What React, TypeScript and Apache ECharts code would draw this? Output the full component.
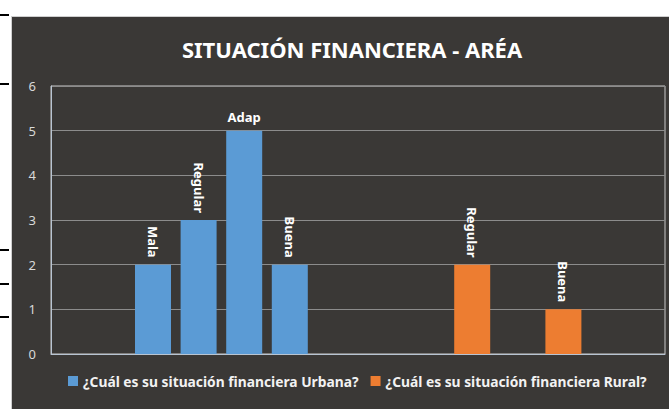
import React, { useEffect, useRef } from "react";
import * as echarts from "echarts";

const slots = ["Mala", "Regular", "Adap", "Buena", "", "", "", "Regular", "", "Buena"];
const urbana = [2, 3, 5, 2, null, null, null, null, null, null];
const rural = [null, null, null, null, null, null, null, 2, null, 1];
const rotatedLabel = [true, true, false, true, false, false, false, true, false, true];
const yTicks = [0, 1, 2, 3, 4, 5, 6];
const seriesNames = ["¿Cuál es su situación financiera Urbana?", "¿Cuál es su situación financiera Rural?"];

const FONT = "Noto Sans";

function toData(vals: (number | null)[]) {
  return vals.map((v, i) => {
    if (v === null) return "-";
    const rot = rotatedLabel[i];
    return {
      value: v,
      label: rot
        ? { rotate: -90, align: "right", verticalAlign: "middle", distance: 7 }
        : { rotate: 0, align: "center", verticalAlign: "bottom", distance: 7 },
    };
  });
}

export default function App() {
  const ref = useRef<HTMLDivElement>(null);
  useEffect(() => {
    const chart = echarts.init(ref.current!, null, { renderer: "svg" });
    const label = {
      show: true,
      position: "top",
      formatter: (p: any) => slots[p.dataIndex],
      color: "#ffffff",
      fontFamily: FONT,
      fontWeight: "bold",
      fontSize: 13,
    };
    chart.setOption({
      animation: false,
      backgroundColor: "#ffffff",
      title: {
        text: "SITUACIÓN FINANCIERA - ARÉA",
        left: 347,
        textAlign: "center",
        top: 33,
        textStyle: { color: "#ffffff", fontFamily: FONT, fontWeight: "bold", fontSize: 22 },
      },
      legend: {
        data: seriesNames,
        top: 369,
        left: 63,
        width: 620,
        align: "left",
        icon: "rect",
        itemWidth: 10,
        itemHeight: 10,
        itemGap: 12,
        textStyle: { color: "#f2f2f2", fontFamily: FONT, fontWeight: "bold", fontSize: 13.8 },
      },
      graphic: [
        {
          type: "rect",
          z: -100,
          shape: { x: 11.5, y: 16.5, width: 670, height: 400 },
          style: { fill: "#3a3836", stroke: "#cfcfcf", lineWidth: 1 },
        },
        ...[15, 84, 250, 284, 317].map((y) => ({
          type: "line",
          z: -100,
          shape: { x1: 0, y1: y, x2: 9, y2: y },
          style: { stroke: "#000000", lineWidth: 2 },
        })),
      ],
      grid: [
        { left: 51, right: 4, top: 86, bottom: 55, show: true, borderColor: "#c8c8c8", borderWidth: 1, backgroundColor: "transparent" },
        { left: 130.2, right: 82.8, top: 86, bottom: 55, show: false },
      ],
      xAxis: [
        {
          gridIndex: 0,
          type: "category",
          data: [""],
          axisLine: { show: true, lineStyle: { color: "#b8c4d2", width: 1 } },
          axisTick: { show: false },
          axisLabel: { show: false },
        },
        {
          gridIndex: 1,
          type: "category",
          data: slots,
          axisLine: { show: false },
          axisTick: { show: false },
          axisLabel: { show: false },
        },
      ],
      yAxis: [
        {
          gridIndex: 0,
          type: "value",
          min: 0,
          max: 6,
          interval: 1,
          data: yTicks,
          axisLine: { show: true, lineStyle: { color: "#b8c4d2" } },
          axisTick: { show: false },
          axisLabel: { color: "#d9d9d9", fontFamily: FONT, fontSize: 13, margin: 15 },
          splitLine: { lineStyle: { color: "#8c8c8c", width: 1 } },
        },
        {
          gridIndex: 1,
          type: "value",
          min: 0,
          max: 6,
          interval: 1,
          show: false,
          splitLine: { show: false },
        },
      ],
      series: [
        {
          name: seriesNames[0],
          type: "bar",
          xAxisIndex: 1,
          yAxisIndex: 1,
          barWidth: 36,
          barGap: "-100%",
          itemStyle: { color: "#5b9bd5" },
          label,
          data: toData(urbana),
        },
        {
          name: seriesNames[1],
          type: "bar",
          xAxisIndex: 1,
          yAxisIndex: 1,
          barWidth: 36,
          barGap: "-100%",
          itemStyle: { color: "#ed7d31" },
          label,
          data: toData(rural),
        },
      ],
    });
    return () => chart.dispose();
  }, []);
  return (
    <div style={{ position: "fixed", left: 0, top: 0, width: 669, height: 409 }}>
      <div ref={ref} style={{ width: 669, height: 409 }} />
    </div>
  );
}
